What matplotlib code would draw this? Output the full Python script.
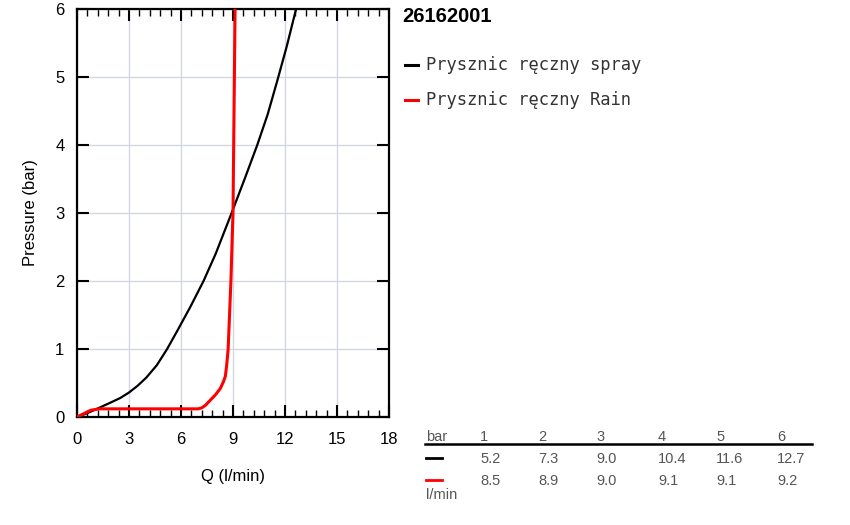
import matplotlib
matplotlib.use("Agg")
import matplotlib.pyplot as plt
from matplotlib.lines import Line2D
from matplotlib.ticker import MultipleLocator

# ---- data ----
title = "26162001"
series_names = ["Prysznic ręczny spray", "Prysznic ręczny Rain"]
series_colors = ["#000000", "#ff0000"]

spray_q = [0, 0.58, 1.15, 1.92, 2.5, 3.0, 3.5, 4.0, 4.6, 5.2, 5.77, 6.54, 7.3,
           8.0, 8.92, 9.7, 10.4, 11.0, 11.56, 12.1, 12.64]
spray_p = [0, 0.055, 0.12, 0.21, 0.28, 0.36, 0.46, 0.58, 0.76, 1.0, 1.26, 1.62, 2.0,
           2.4, 3.0, 3.52, 4.0, 4.45, 4.95, 5.45, 6.0]

rain_q = [0, 0.4, 0.8, 1.3, 7.0, 7.2, 7.4, 7.7, 8.0, 8.27, 8.45, 8.56, 8.65, 8.72,
          8.8, 8.88, 8.95, 9.0, 9.06, 9.12]
rain_p = [0, 0.05, 0.1, 0.12, 0.12, 0.135, 0.17, 0.25, 0.33, 0.42, 0.52, 0.6, 0.8,
          1.0, 1.5, 2.0, 2.6, 3.0, 4.5, 6.0]

table_bar = ["1", "2", "3", "4", "5", "6"]
table_spray = ["5.2", "7.3", "9.0", "10.4", "11.6", "12.7"]
table_rain = ["8.5", "8.9", "9.0", "9.1", "9.1", "9.2"]

plt.rcParams['font.family'] = ['Liberation Sans', 'DejaVu Sans']

W, H = 850, 525
fig = plt.figure(figsize=(W / 100, H / 100), dpi=100)
ax = fig.add_axes([77 / W, 1 - 417 / H, (389 - 77) / W, (417 - 9) / H])

ax.plot(spray_q, spray_p, color=series_colors[0], lw=1.6, zorder=3,
        solid_joinstyle='round')
ax.plot(rain_q, rain_p, color=series_colors[1], lw=2.2, zorder=3,
        solid_joinstyle='round')

ax.set_xlim(0, 18)
ax.set_ylim(0, 6)
ax.xaxis.set_major_locator(MultipleLocator(3))
ax.xaxis.set_minor_locator(MultipleLocator(0.6))
ax.yaxis.set_major_locator(MultipleLocator(1))
ax.grid(True, which='major', color='#d3d7e1', lw=1.0, zorder=0)
for s in ax.spines.values():
    s.set_linewidth(1.6)
ax.tick_params(which='both', direction='in', top=True, right=True, color='black')
ax.tick_params(which='major', length=8.5, width=1.5, labelsize=12)
ax.tick_params(which='minor', length=5, width=1.0)
ax.tick_params(axis='x', which='major', pad=11)
ax.tick_params(axis='y', which='major', pad=9)
ax.tick_params(axis='y', which='minor', left=False, right=False)
ax.set_xlabel("Q (l/min)", fontsize=12, labelpad=16)
ax.set_ylabel("Pressure (bar)", fontsize=12, labelpad=12)

def fx(px):
    return px / W

def fy(py):
    return 1 - py / H

# title
fig.text(fx(402), fy(17), title, fontsize=14.5, fontweight='bold', ha='left', va='center')

# legend
for i, (name, col) in enumerate(zip(series_names, series_colors)):
    y = 65 + i * 35
    fig.add_artist(Line2D([fx(405), fx(418)], [fy(y), fy(y)], color=col, lw=2.2))
    fig.text(fx(426), fy(y), name, fontsize=12.3, family='DejaVu Sans Mono',
             color='#333333', ha='left', va='center')

# table
col_x = [480, 538, 596, 658, 716, 777]
tc = '#555555'
fs = 10.5
fig.text(fx(426), fy(437), "bar", fontsize=fs, color=tc, ha='left', va='center')
for x, b in zip(col_x, table_bar):
    fig.text(fx(x), fy(437), b, fontsize=fs, color=tc, ha='left', va='center')
fig.add_artist(Line2D([fx(425), fx(812)], [fy(444), fy(444)], color='black', lw=1.8))
fig.add_artist(Line2D([fx(426), fx(442)], [fy(458), fy(458)], color=series_colors[0], lw=2.0))
fig.add_artist(Line2D([fx(426), fx(442)], [fy(480), fy(480)], color=series_colors[1], lw=2.0))
for x, v in zip(col_x, table_spray):
    fig.text(fx(x), fy(459), v, fontsize=fs, color=tc, ha='left', va='center')
for x, v in zip(col_x, table_rain):
    fig.text(fx(x), fy(481), v, fontsize=fs, color=tc, ha='left', va='center')
fig.text(fx(426), fy(495), "l/min", fontsize=fs, color=tc, ha='left', va='center')

fig.savefig("out.png", dpi=100)
